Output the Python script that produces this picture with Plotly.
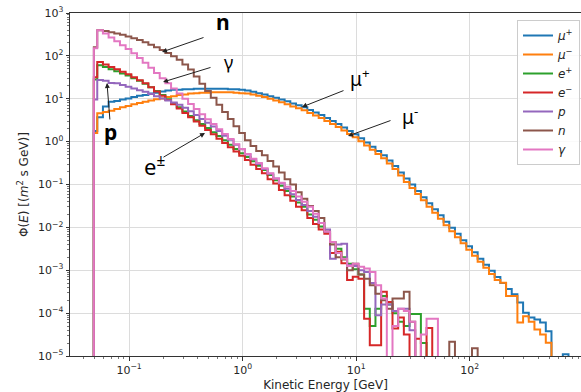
import plotly.graph_objects as go

# ---------------- data ----------------
# log10(E/GeV) bin edges of the histograms
edges_log = [-1.31] + [round(-1.28 + 0.05 * i, 3) for i in range(86)]
energy_edges = [10 ** e for e in edges_log]

mu_plus = [1.78, 3.72, 6.61, 8.51, 8.91, 9.55, 10.2, 11.0, 11.7, 12.3,
           13.2, 13.8, 14.8, 15.5, 16.2, 16.2, 16.6, 16.6, 17.0, 17.0,
           17.0, 17.0, 17.0, 17.0, 16.6, 16.6, 16.2, 15.5, 14.5, 13.5,
           12.6, 11.5, 10.5, 9.55, 8.71, 7.76, 7.08, 6.31, 5.50, 4.79,
           4.17, 3.55, 3.02, 2.57, 2.14, 1.78, 1.48, 1.20, 0.955, 0.759,
           0.603, 0.479, 0.363, 0.269, 0.191, 0.138, 0.100, 0.0708, 0.0501, 0.0363,
           0.0263, 0.0191, 0.0135, 0.00977, 0.00708, 0.00501, 0.00363, 0.00263, 0.00186, 0.00135,
           9.77e-4, 6.92e-4, 5.01e-4, 3.63e-4, 2.75e-4, 1.78e-4, 1.02e-4, 7.94e-5, 7.08e-5, 6.03e-5,
           3.8e-5, 0, 0, 1.1e-5, 0, 0]

mu_minus = [1.58, 4.57, 4.90, 5.25, 5.75, 6.31, 6.76, 7.41, 7.94, 8.51,
            9.12, 9.77, 10.2, 11.0, 11.5, 12.3, 12.6, 13.2, 13.5, 13.8,
            13.8, 14.1, 14.1, 14.1, 14.1, 13.8, 13.5, 13.2, 12.6, 11.7,
            11.0, 10.0, 9.12, 8.32, 7.41, 6.61, 6.03, 5.37, 4.68, 4.07,
            3.55, 3.02, 2.57, 2.19, 1.82, 1.51, 1.26, 1.02, 0.813, 0.646,
            0.513, 0.407, 0.309, 0.229, 0.162, 0.115, 0.0832, 0.0603, 0.0427, 0.0302,
            0.0219, 0.0158, 0.0112, 0.00813, 0.00589, 0.00427, 0.00302, 0.00219, 0.00158, 0.00115,
            8.13e-4, 5.89e-4, 5.13e-4, 2.51e-4, 2.51e-4, 6.03e-5, 8.51e-5, 6.31e-5, 4.17e-5, 3.16e-5,
            2.04e-5, 0, 0, 0, 0, 0]

e_plus = [28.2, 60.3, 55.0, 49.0, 43.7, 38.9, 34.7, 30.2, 26.3, 22.4,
          18.6, 15.1, 12.3, 9.77, 7.76, 6.31, 5.01, 3.98, 3.16, 2.57,
          2.09, 1.66, 1.35, 1.07, 0.851, 0.676, 0.537, 0.437, 0.347, 0.275,
          0.219, 0.166, 0.126, 0.0933, 0.0708, 0.0525, 0.038, 0.0302, 0.02, 0.0151,
          0.0105, 0.00794, 0.00447, 0.00316, 0.002, 0.00141, 0.00105, 7.94e-4, 1.26e-4, 5.01e-5,
          1.26e-4, 2.51e-4, 1.58e-4, 1.0e-4, 6.31e-5, 5.01e-5, 9.55e-5, 9.55e-5, 2.0e-5, 0,
          0, 0, 0, 0, 0, 0, 0, 0, 0, 0,
          0, 0, 0, 0, 0, 0, 0, 0, 0, 0,
          0, 0, 0, 0, 0, 0]

e_minus = [31.6, 72.4, 63.1, 55.0, 49.0, 42.7, 37.2, 31.6, 26.9, 22.9,
           18.6, 14.8, 11.7, 9.33, 7.41, 5.89, 4.68, 3.72, 2.95, 2.34,
           1.86, 1.48, 1.17, 0.933, 0.741, 0.589, 0.468, 0.372, 0.288, 0.229,
           0.182, 0.132, 0.105, 0.0741, 0.0562, 0.0417, 0.0302, 0.0251, 0.0166, 0.012,
           0.00891, 0.00708, 0.00251, 0.00269, 0.00145, 5.89e-4, 7.08e-4, 6.31e-4, 7.41e-5, 1.78e-5,
           1.78e-5, 3.16e-4, 1.82e-4, 4.37e-5, 7.94e-5, 3.16e-5, 0, 2.51e-5, 0, 4.47e-5,
           0, 0, 0, 0, 0, 0, 0, 0, 0, 0,
           0, 0, 0, 0, 0, 0, 0, 0, 0, 0,
           0, 0, 0, 0, 0, 0]

proton = [9.55, 27.5, 26.3, 23.4, 22.9, 20.9, 19.1, 17.4, 15.8, 14.5,
          12.9, 11.5, 10.2, 9.12, 8.13, 7.24, 6.17, 5.13, 4.17, 3.39,
          2.75, 2.24, 1.78, 1.38, 1.10, 0.851, 0.661, 0.501, 0.389, 0.302,
          0.229, 0.178, 0.138, 0.107, 0.0794, 0.0589, 0.0437, 0.0331, 0.024, 0.0178,
          0.0126, 0.00891, 0.00186, 0.00398, 0.00417, 0.00132, 0.00126, 0.001, 9.12e-4, 5.01e-4,
          8.91e-5, 1.58e-4, 1.58e-4, 1.12e-4, 1.26e-4, 1.26e-4, 3.98e-5, 0, 0, 0,
          0, 0, 0, 0, 0, 0, 0, 0, 0, 0,
          0, 0, 0, 0, 0, 0, 0, 0, 0, 0,
          0, 0, 0, 0, 0, 0]

neutron = [158, 398, 380, 355, 331, 309, 282, 257, 234, 209,
           182, 158, 138, 117, 97.7, 81.3, 63.1, 47.9, 33.1, 22.4,
           15.1, 10.5, 7.24, 4.90, 3.39, 2.29, 1.58, 1.07, 0.794, 0.603,
           0.479, 0.355, 0.263, 0.191, 0.132, 0.100, 0.0661, 0.0468, 0.0316, 0.024,
           0.0166, 0.00794, 0.00398, 0.002, 0.00178, 0.001, 0.00141, 7.94e-4, 6.31e-4, 4.47e-4,
           2.82e-4, 2.0e-4, 1.26e-4, 2.19e-4, 2.19e-4, 3.16e-4, 6.31e-5, 0, 0, 0,
           0, 0, 0, 2.14e-5, 0, 0, 0, 1.51e-5, 0, 0,
           0, 0, 0, 0, 0, 0, 0, 0, 0, 0,
           0, 0, 0, 0, 0, 0]

gamma = [150, 398, 331, 269, 219, 178, 145, 115, 89.1, 69.2,
         52.5, 39.8, 30.2, 22.9, 17.4, 13.2, 10.0, 7.59, 5.75, 4.37,
         3.31, 2.57, 1.95, 1.51, 1.15, 0.871, 0.676, 0.513, 0.398, 0.316,
         0.24, 0.182, 0.138, 0.11, 0.0891, 0.0708, 0.0525, 0.0398, 0.0302, 0.0209,
         0.0126, 0.00794, 0.00457, 0.00251, 0.00186, 0.00126, 0.00141, 0.0012, 0.0011, 9.12e-4,
         4.47e-4, 2.19e-4, 0, 5.01e-5, 1.26e-4, 1.12e-4, 6.31e-5, 0, 3.16e-5, 7.41e-5,
         7.41e-5, 0, 0, 0, 0, 0, 0, 0, 0, 0,
         0, 0, 0, 0, 0, 0, 0, 0, 0, 0,
         0, 0, 0, 0, 0, 0]

series_names = ["<i>μ</i><sup>+</sup>", "<i>μ</i><sup>−</sup>", "<i>e</i><sup>+</sup>",
                "<i>e</i><sup>−</sup>", "<i>p</i>", "<i>n</i>", "<i>γ</i>"]
series_values = [mu_plus, mu_minus, e_plus, e_minus, proton, neutron, gamma]
series_colors = ["#1f77b4", "#ff7f0e", "#2ca02c", "#d62728", "#9467bd", "#8c564b", "#e377c2"]

x_tick_vals = [0.1, 1, 10, 100]
x_tick_text = ["10<sup>−1</sup>", "10<sup>0</sup>", "10<sup>1</sup>", "10<sup>2</sup>"]
y_tick_vals = [1e-5, 1e-4, 1e-3, 1e-2, 1e-1, 1, 10, 100, 1000]
y_tick_text = ["10<sup>−5</sup>", "10<sup>−4</sup>", "10<sup>−3</sup>", "10<sup>−2</sup>",
               "10<sup>−1</sup>", "10<sup>0</sup>", "10<sup>1</sup>", "10<sup>2</sup>", "10<sup>3</sup>"]

# ---------------- figure ----------------
FLOOR = 1e-9  # empty bins drop below the axis like a matplotlib step histogram


def step_xy(vals):
    n = len(vals)
    xs = [energy_edges[0], energy_edges[0]]
    ys = [FLOOR, vals[0] if vals[0] > 0 else FLOOR]
    for i in range(1, n):
        xs.append(energy_edges[i])
        ys.append(vals[i] if vals[i] > 0 else FLOOR)
    xs.append(energy_edges[n])
    ys.append(vals[n - 1] if vals[n - 1] > 0 else FLOOR)
    xs.append(energy_edges[n])
    ys.append(FLOOR)
    return xs, ys


fig = go.Figure()
for name, vals, col in zip(series_names, series_values, series_colors):
    xs, ys = step_xy(vals)
    fig.add_trace(go.Scatter(x=xs, y=ys, mode="lines", name=name, hoverinfo="skip",
                             line=dict(color=col, width=2, shape="hv")))

FONT = "DejaVu Sans"
axis_common = dict(showline=True, linecolor="#333333", linewidth=1,
                   ticks="outside", ticklen=3.5, tickcolor="#333333",
                   showgrid=True, gridcolor="#dcdcdc", gridwidth=1, automargin=False,
                   zeroline=False, tickfont=dict(family=FONT, size=11, color="#262626"))

minor_x = [m * 10 ** d for d in range(-2, 3) for m in range(2, 10)]
minor_y = [m * 10 ** d for d in range(-5, 3) for m in range(2, 10)]

fig.update_xaxes(type="log", range=[-1.52, 2.98], tickmode="array",
                 tickvals=x_tick_vals, ticktext=x_tick_text, mirror=True,
                 minor=dict(tickmode="array", tickvals=minor_x, ticks="outside",
                            ticklen=2, tickcolor="#777777", showgrid=False),
                 title=dict(text="Kinetic Energy [GeV]", standoff=4,
                            font=dict(family=FONT, size=12, color="#262626")),
                 **axis_common)
fig.update_yaxes(type="log", range=[-5, 3], tickmode="array",
                 tickvals=y_tick_vals, ticktext=y_tick_text,
                 minor=dict(tickmode="array", tickvals=minor_y, ticks="outside",
                            ticklen=2, tickcolor="#777777", showgrid=False),
                 title=dict(text="Φ(<i>E</i>) [(<i>m</i><sup>2</sup> s GeV)]", standoff=6,
                            font=dict(family=FONT, size=12, color="#262626")),
                 **axis_common)

L, R, T, B = 70, 0, 13, 36
W, H = 581, 392
PW, PH = W - L - R, H - T - B


def px(x, y):
    return (x - L) / PW, (H - B - y) / PH


annos = []
# text labels
for txt, (x, y), size in [("<b>n</b>", (223, 22), 21), ("γ", (228, 62), 18),
                          ("μ<sup>+</sup>", (360, 78), 19), ("μ<sup>-</sup>", (410, 116), 19),
                          ("<b>p</b>", (110, 132), 21), ("e<sup>±</sup>", (154, 166), 22)]:
    xx, yy = px(x, y)
    annos.append(dict(x=xx, y=yy, xref="paper", yref="paper", text=txt, showarrow=False,
                      font=dict(family="Noto Sans", size=size, color="black"),
                      xanchor="center", yanchor="middle"))
# arrows: (tail, tip)
for (tx, ty), (hx, hy) in [((205, 37), (162, 52)), ((212, 67), (163, 82)),
                           ((345, 90), (302, 107)), ((392, 120), (348, 136)),
                           ((110, 121), (107, 83)), ((162, 158), (205, 133))]:
    xx, yy = px(hx, hy)
    annos.append(dict(x=xx, y=yy, xref="paper", yref="paper", text="", showarrow=True,
                      ax=tx - hx, ay=ty - hy, arrowhead=2, arrowsize=1, arrowwidth=1,
                      arrowcolor="#222222", standoff=0, startstandoff=0))
# clipped 10^3 tick label at the right edge
annos.append(dict(x=3.0, y=0, xref="x", yref="paper", text="10<sup>3</sup>", showarrow=False,
                  yanchor="top", yshift=-4, font=dict(family=FONT, size=11, color="#262626")))

fig.update_layout(
    width=W, height=H,
    margin=dict(l=L, r=R, t=T, b=B, pad=0, autoexpand=False),
    paper_bgcolor="white", plot_bgcolor="white",
    font=dict(family=FONT, size=11, color="#262626"),
    annotations=annos,
    hovermode=False,
    legend=dict(x=0.998, y=(H - B - 20) / PH, xanchor="right", yanchor="top",
                bgcolor="rgba(255,255,255,0.85)", bordercolor="#cccccc", borderwidth=1,
                font=dict(family=FONT, size=12, color="#262626"),
                itemwidth=30, tracegroupgap=0),
    showlegend=True,
)

fig.write_html("out.html", config={"displayModeBar": False},
               post_script="document.body.style.margin='0';document.body.style.overflow='hidden';")
